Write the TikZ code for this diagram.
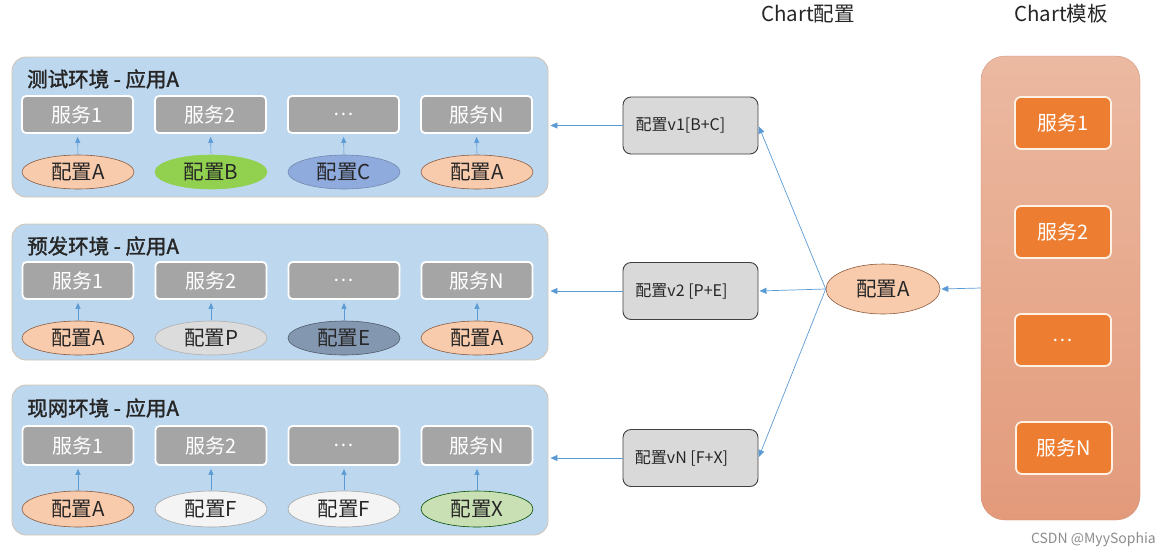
\documentclass[tikz,border=0pt]{standalone}
\usepackage{fontspec}
\setmainfont{Noto Sans CJK SC}
\newfontfamily\titlefont[FakeBold=1.6]{Noto Sans CJK SC}
\usetikzlibrary{arrows.meta,shapes.geometric}
\definecolor{panelblue}{HTML}{BDD7EE}
\definecolor{panelline}{HTML}{D2C3B0}
\definecolor{svcgray}{HTML}{A5A5A5}
\definecolor{peach}{HTML}{F8CBAD}
\definecolor{peachline}{HTML}{8C5B3E}
\definecolor{cgreen}{HTML}{92D050}
\definecolor{cblue}{HTML}{8FAADC}
\definecolor{clgray}{HTML}{DCDCDC}
\definecolor{cslate}{HTML}{8497B0}
\definecolor{cwhite}{HTML}{F4F4F4}
\definecolor{clgreen}{HTML}{C9E0B4}
\definecolor{arrowblue}{HTML}{5B9BD5}
\definecolor{cfgbox}{HTML}{D9D9D9}
\definecolor{orangebox}{HTML}{ED7D31}
\definecolor{tpltop}{HTML}{EBB9A1}
\definecolor{tplbot}{HTML}{E39A7B}
\definecolor{txt}{HTML}{262626}
\tikzset{
  panel/.style={draw=panelline, line width=0.8pt, fill=panelblue, rounded corners=14pt, minimum width=536pt, inner sep=0pt},
  svc/.style={draw=white, line width=1.8pt, fill=svcgray, rounded corners=4pt, minimum width=111pt, minimum height=37pt, text=white, font=\fontsize{20}{20}\selectfont, inner sep=0pt},
  dots/.style={font=\fontsize{19}{19}\selectfont},
  cfg/.style={ellipse, line width=0.6pt, minimum width=112pt, minimum height=34pt, text=txt, font=\fontsize{20.5}{20.5}\selectfont, inner sep=0pt},
  ttl/.style={anchor=west, text=txt, font=\fontsize{20.5}{20.5}\titlefont, inner sep=0pt},
  vbox/.style={draw=black!75, line width=0.9pt, fill=cfgbox, rounded corners=8pt, minimum width=135pt, minimum height=57pt, text=txt, font=\fontsize{16}{16}\selectfont, inner sep=0pt},
  obox/.style={draw=white!90!orange, line width=1.8pt, fill=orangebox, rounded corners=6pt, minimum width=96pt, minimum height=52pt, text=white, font=\fontsize{20}{20}\selectfont, inner sep=0pt},
  arr/.style={draw=arrowblue, line width=0.7pt, -{Triangle[length=7pt,width=6pt]}},
  head/.style={text=txt, font=\fontsize{20.5}{20.5}\selectfont, inner sep=0pt},
}
\begin{document}
\begin{tikzpicture}[x=1pt,y=-1pt]
\useasboundingbox (0,0) rectangle (1170,558);

% ---------- panels ----------
\node[panel, minimum height=140pt] (p1) at (280,127) {};
\node[panel, minimum height=136pt] (p2) at (280,292) {};
\node[panel, minimum height=150pt] (p3) at (280,460) {};

\node[ttl] (t1) at (27,79) {测试环境 - 应用A};
\node[ttl] (t2) at (27,246) {预发环境 - 应用A};
\node[ttl] (t3) at (27,408) {现网环境 - 应用A};

% row 1
\node[svc] (a1) at (77.5,114.5) {服务1};
\node[svc] (a2) at (210.5,114.5) {服务2};
\node[svc, dots] (a3) at (343.5,114.5) {…};
\node[svc] (a4) at (476.5,114.5) {服务N};
\node[cfg, draw=peachline, fill=peach] (ea1) at (78,172) {配置A};
\node[cfg, draw=cgreen, fill=cgreen] (ea2) at (211,172) {配置B};
\node[cfg, draw=cblue!80!black, fill=cblue] (ea3) at (344,172) {配置C};
\node[cfg, draw=peachline, fill=peach] (ea4) at (477,172) {配置A};

% row 2
\node[svc] (b1) at (78,280.5) {服务1};
\node[svc] (b2) at (211,280.5) {服务2};
\node[svc, dots] (b3) at (344,280.5) {…};
\node[svc] (b4) at (477,280.5) {服务N};
\node[cfg, draw=peachline, fill=peach] (eb1) at (78,338) {配置A};
\node[cfg, draw=clgray!80!black, fill=clgray] (eb2) at (211,338) {配置P};
\node[cfg, draw=cslate!60!black, fill=cslate] (eb3) at (344,338) {配置E};
\node[cfg, draw=peachline, fill=peach] (eb4) at (477,338) {配置A};

% row 3
\node[svc, minimum height=39pt] (c1) at (78,445.5) {服务1};
\node[svc, minimum height=39pt] (c2) at (211,445.5) {服务2};
\node[svc, dots, minimum height=39pt] (c3) at (344,445.5) {…};
\node[svc, minimum height=39pt] (c4) at (477,445.5) {服务N};
\node[cfg, draw=peachline, fill=peach, minimum height=36pt] (ec1) at (78,509) {配置A};
\node[cfg, draw=black!35, fill=cwhite, minimum height=36pt] (ec2) at (211,509) {配置F};
\node[cfg, draw=black!35, fill=cwhite, minimum height=36pt] (ec3) at (344,509) {配置F};
\node[cfg, draw=green!30!black, fill=clgreen, minimum height=36pt] (ec4) at (477,509) {配置X};

\foreach \e/\b in {ea1/a1,ea2/a2,ea3/a3,ea4/a4,eb1/b1,eb2/b2,eb3/b3,eb4/b4,ec1/c1,ec2/c2,ec3/c3,ec4/c4}{
  \draw[arr, -{Triangle[length=6pt,width=5pt]}, line width=0.6pt, shorten >=3pt, shorten <=1pt] (\e.north) -- (\b.south);
}

% ---------- Chart config ----------
\node[head] (h1) at (808,14) {Chart配置};
\node[head] (h2) at (1061,14) {Chart模板};

\node[vbox] (v1) at (690.5,125.5) {\hspace*{-20pt}配置v1[B+C]};
\node[vbox] (v2) at (690.5,291) {\hspace*{-18pt}配置v2 [P+E]};
\node[vbox] (vN) at (690.5,458) {\hspace*{-18pt}配置vN [F+X]};

\draw[arr, shorten >=2pt] (v1.west) -- (v1.west -| p1.east);
\draw[arr, shorten >=2pt] (v2.west) -- (v2.west -| p2.east);
\draw[arr, shorten >=2pt] (vN.west) -- (vN.west -| p3.east);

\node[cfg, draw=peachline, fill=peach, minimum width=114pt, minimum height=50pt] (A) at (883,289) {配置A};

\draw[arr, shorten >=1pt] (A.west) -- (v1.east);
\draw[arr, shorten >=1pt] (A.west) -- (v2.east);
\draw[arr, shorten >=1pt] (A.west) -- (vN.east);

% ---------- Chart template ----------
\node[rounded corners=24pt, top color=tpltop, bottom color=tplbot, draw=tplbot!90!black, line width=0.3pt, minimum width=159pt, minimum height=464pt, inner sep=0pt] (tp) at (1060.5,288) {};
\node[obox] (o1) at (1063,123) {服务1};
\node[obox] (o2) at (1063,232) {服务2};
\node[obox, dots] (o3) at (1063,340) {…};
\node[obox] (o4) at (1064,448) {服务N};

\draw[arr, shorten >=1pt] (tp.west) -- (A.east);

\node[text=black!45, font=\fontsize{14}{14}\selectfont, anchor=east, inner sep=0pt] (wm) at (1156,540) {CSDN @MyySophia};
\end{tikzpicture}
\end{document}
